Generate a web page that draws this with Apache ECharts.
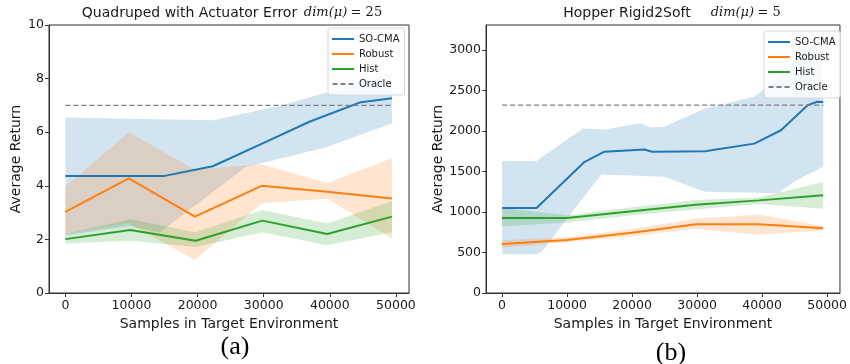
<!DOCTYPE html>
<html>
<head>
<meta charset="utf-8">
<script src="https://cdn.jsdelivr.net/npm/echarts@6/dist/echarts.min.js"></script>
<style>
  html, body { margin: 0; padding: 0; background: #fff; }
  #chart { width: 850px; height: 364px; }
</style>
</head>
<body>
<div id="chart"></div>
<script>
// tick labels
var xTicks = [0, 10000, 20000, 30000, 40000, 50000];
var yTicksA = [0, 2, 4, 6, 8, 10];
var yTicksB = [0, 500, 1000, 1500, 2000, 2500, 3000];
var legendNames = ['SO-CMA', 'Robust', 'Hist', 'Oracle'];

// (a) Quadruped with Actuator Error  -- [samples, return]
var socmaA   = [[0, 4.37], [15000, 4.37], [22300, 4.73], [30000, 5.6], [37000, 6.4], [44700, 7.12], [49400, 7.27]];
var socmaHiA = [[0, 6.55], [22300, 6.45], [32700, 7.0], [45900, 7.95], [49400, 8.22]];
var socmaLoA = [[0, 2.15], [9700, 2.5], [14200, 2.25], [27300, 4.7], [39600, 5.45], [49400, 6.33]];
var robustA   = [[0, 3.03], [9600, 4.28], [19600, 2.85], [29700, 4.0], [39600, 3.78], [49400, 3.53]];
var robustHiA = [[0, 3.97], [9600, 6.0], [19600, 4.6], [29700, 4.8], [39600, 4.1], [49400, 5.03]];
var robustLoA = [[0, 2.2], [9600, 2.6], [19600, 1.23], [29700, 3.35], [39600, 3.53], [49400, 2.04]];
var histA   = [[0, 2.01], [9800, 2.35], [19700, 1.95], [29800, 2.7], [39600, 2.2], [49400, 2.85]];
var histHiA = [[0, 2.2], [9800, 2.75], [19700, 2.27], [29800, 3.1], [39600, 2.59], [49400, 3.43]];
var histLoA = [[0, 1.85], [9800, 1.95], [19700, 1.72], [29800, 2.27], [39600, 1.78], [49400, 2.27]];
var oracleA = 7.0;

// (b) Hopper Rigid2Soft
var socmaB   = [[0, 1050], [5300, 1050], [12700, 1620], [15750, 1745], [21850, 1772], [23100, 1745], [31200, 1750], [38800, 1845], [42900, 2010], [47000, 2320], [48500, 2362], [49400, 2358]];
var socmaHiB = [[0, 1630], [5300, 1630], [9150, 1848], [12440, 2033], [15750, 2020], [21340, 2095], [22870, 2045], [24900, 2053], [31200, 2280], [38800, 2424], [42000, 2620], [49400, 3200]];
var socmaLoB = [[0, 478], [5300, 478], [6000, 500], [15250, 1465], [24900, 1436], [31200, 1251], [42400, 1231], [44900, 1374], [49400, 1560]];
var robustB   = [[0, 605], [10000, 655], [20000, 745], [29800, 848], [39500, 848], [49400, 799]];
var robustHiB = [[0, 650], [10000, 690], [20000, 790], [29800, 917], [39500, 971], [49400, 824]];
var robustLoB = [[0, 560], [10000, 630], [20000, 700], [29800, 794], [39500, 720], [49400, 774]];
var histB   = [[0, 926], [10000, 926], [20000, 1010], [29800, 1090], [39500, 1144], [49400, 1206]];
var histHiB = [[0, 1050], [10000, 960], [20000, 1060], [29800, 1150], [39500, 1180], [49400, 1370]];
var histLoB = [[0, 820], [10000, 870], [20000, 960], [29800, 1030], [39500, 1100], [49400, 1040]];
var oracleB = 2320;

var C_BLUE = '#1f77b4', C_ORANGE = '#ff7f0e', C_GREEN = '#2ca02c', C_GRAY = '#7f7f7f';
var TXT = '#1a1a1a';

// shaded band: one polygon, upper edge then lower edge reversed
function band(idx, hi, lo, rgb) {
  return {
    type: 'custom',
    xAxisIndex: idx, yAxisIndex: idx,
    z: 1,
    silent: true,
    data: hi,
    renderItem: function (params, api) {
      if (params.dataIndex !== 0) return null;
      var pts = hi.map(function (p) { return api.coord(p); });
      lo.slice().reverse().forEach(function (p) { pts.push(api.coord(p)); });
      return {
        type: 'polygon',
        shape: { points: pts },
        style: { fill: 'rgba(' + rgb + ',0.2)', stroke: null }
      };
    }
  };
}

function line(idx, name, data, color) {
  return {
    type: 'line', name: name, xAxisIndex: idx, yAxisIndex: idx,
    data: data, showSymbol: false, symbol: 'none', z: 3,
    lineStyle: { color: color, width: 2 }, itemStyle: { color: color }
  };
}

function oracle(idx, val) {
  return {
    type: 'line', name: 'Oracle', xAxisIndex: idx, yAxisIndex: idx,
    data: [[xTicks[0], val], [49400, val]], showSymbol: false, symbol: 'none', z: 4,
    lineStyle: { color: C_GRAY, width: 1.3, type: [5, 3] }, itemStyle: { color: C_GRAY }
  };
}

function plain(v) { return String(v); }

function xAxis(idx) {
  return {
    type: 'value', gridIndex: idx, min: -2475, max: 51975,
    name: 'Samples in Target Environment', nameLocation: 'middle', nameGap: 23,
    nameTextStyle: { fontFamily: 'DejaVu Sans', fontSize: 14, color: TXT },
    axisLine: { show: true, onZero: false, lineStyle: { color: '#333', width: 1 } },
    axisTick: { show: true, length: 4, customValues: xTicks, lineStyle: { color: '#333' } },
    axisLabel: { customValues: xTicks, formatter: plain, fontFamily: 'DejaVu Sans', fontSize: 12.5, color: TXT, margin: 6 },
    splitLine: { show: false }
  };
}

function yAxis(idx, max, ticks, gap) {
  return {
    type: 'value', gridIndex: idx, min: 0, max: max,
    name: 'Average Return', nameLocation: 'middle', nameGap: gap,
    nameTextStyle: { fontFamily: 'DejaVu Sans', fontSize: 14, color: TXT },
    axisLine: { show: true, onZero: false, lineStyle: { color: '#333', width: 1 } },
    axisTick: { show: true, length: 4, customValues: ticks, lineStyle: { color: '#333' } },
    axisLabel: { customValues: ticks, formatter: plain, fontFamily: 'DejaVu Sans', fontSize: 12.5, color: TXT, margin: 5 },
    splitLine: { show: false }
  };
}

var solidIcon = 'path://M0,0h22v2h-22z';
var dashIcon = 'path://M0,0h5v2h-5z M8,0h5v2h-5z M16,0h5v2h-5z';
function legend(left, top) {
  return {
    left: left, top: top, orient: 'vertical', selectedMode: false,
    itemWidth: 22, itemHeight: 2, itemGap: 3,
    padding: [5, 5, 5, 4],
    backgroundColor: 'rgba(255,255,255,0.8)', borderColor: '#d5d5d5', borderWidth: 1, borderRadius: 3,
    textStyle: { fontFamily: 'DejaVu Sans', fontSize: 10, color: TXT, lineHeight: 12 },
    data: [
      { name: legendNames[0], icon: solidIcon },
      { name: legendNames[1], icon: solidIcon },
      { name: legendNames[2], icon: solidIcon },
      { name: legendNames[3], icon: dashIcon }
    ]
  };
}

var rich = {
  t: { fontFamily: 'DejaVu Sans', fontSize: 14, fill: TXT, color: TXT },
  m: { fontFamily: 'DejaVu Serif', fontStyle: 'italic', fontSize: 13, fill: TXT, color: TXT },
  r: { fontFamily: 'DejaVu Serif', fontSize: 13, fill: TXT, color: TXT }
};

var option = {
  animation: false,
  backgroundColor: '#fff',
  grid: [
    { left: 49, right: 441, top: 25, bottom: 71, show: true, borderColor: '#333', borderWidth: 1 },
    { left: 486, right: 7, top: 25, bottom: 71, show: true, borderColor: '#333', borderWidth: 1 }
  ],
  xAxis: [xAxis(0), xAxis(1)],
  yAxis: [yAxis(0, 10, yTicksA, 26), yAxis(1, 3310, yTicksB, 40)],
  legend: [legend(328, 28), legend(764, 31)],
  graphic: [
    { type: 'text', x: 232, y: 13, style: { text: '{t|Quadruped with Actuator Error}  {m|dim(μ)} {r|= 25}', rich: rich, align: 'center', verticalAlign: 'middle' } },
    { type: 'text', x: 672, y: 13, style: { text: '{t|Hopper Rigid2Soft}      {m|dim(μ)} {r|= 5}', rich: rich, align: 'center', verticalAlign: 'middle' } },
    { type: 'text', x: 235, y: 347, style: { text: '(a)', font: '26px "Liberation Serif"', fill: '#000', align: 'center', verticalAlign: 'middle' } },
    { type: 'text', x: 671, y: 353, style: { text: '(b)', font: '26px "Liberation Serif"', fill: '#000', align: 'center', verticalAlign: 'middle' } }
  ],
  series: [
    band(0, socmaHiA, socmaLoA, '31,119,180'),
    band(0, robustHiA, robustLoA, '255,127,14'),
    band(0, histHiA, histLoA, '44,160,44'),
    line(0, 'SO-CMA', socmaA, C_BLUE),
    line(0, 'Robust', robustA, C_ORANGE),
    line(0, 'Hist', histA, C_GREEN),
    oracle(0, oracleA),
    band(1, socmaHiB, socmaLoB, '31,119,180'),
    band(1, robustHiB, robustLoB, '255,127,14'),
    band(1, histHiB, histLoB, '44,160,44'),
    line(1, 'SO-CMA', socmaB, C_BLUE),
    line(1, 'Robust', robustB, C_ORANGE),
    line(1, 'Hist', histB, C_GREEN),
    oracle(1, oracleB)
  ]
};

var myChart = echarts.init(document.getElementById('chart'));
myChart.setOption(option);
</script>
</body>
</html>
